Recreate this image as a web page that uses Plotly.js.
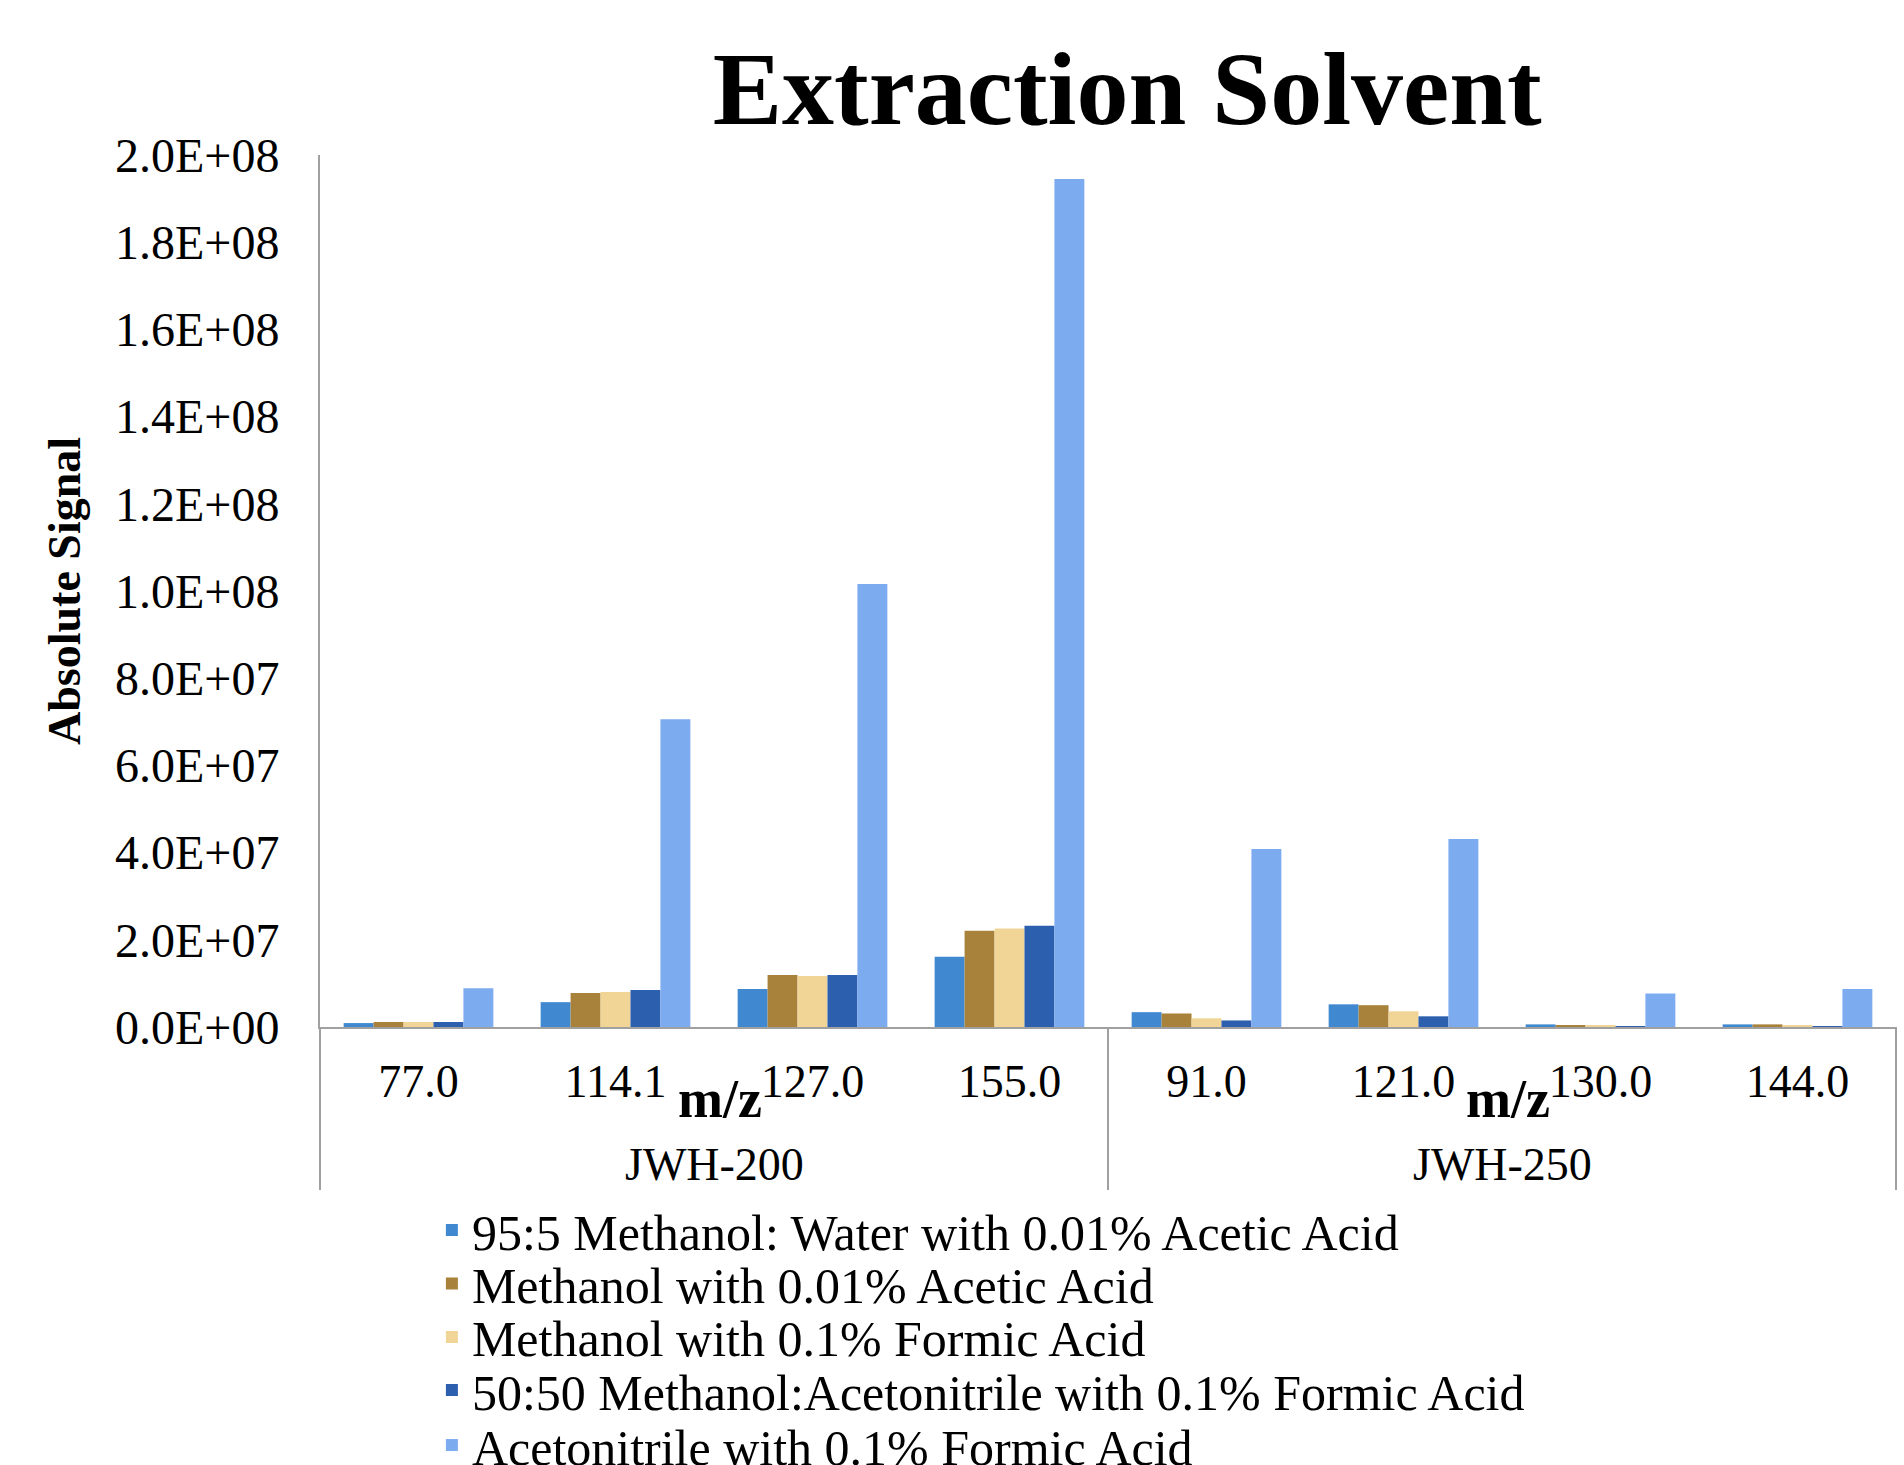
<!DOCTYPE html>
<html>
<head>
<meta charset="utf-8">
<script src="https://cdn.plot.ly/plotly-3.0.1.min.js"></script>
<style>html,body{margin:0;padding:0;background:#fff;}#chart{width:1904px;height:1465px;}</style>
</head>
<body>
<div id="chart"></div>
<script>
// ---- data ----
const compounds = ['JWH-200','JWH-200','JWH-200','JWH-200','JWH-250','JWH-250','JWH-250','JWH-250'];
const mzValues  = ['77.0','114.1','127.0','155.0','91.0','121.0','130.0','144.0'];

const seriesNames = [
  '95:5 Methanol: Water with 0.01% Acetic Acid',
  'Methanol with 0.01% Acetic Acid',
  'Methanol with 0.1% Formic Acid',
  '50:50 Methanol:Acetonitrile with 0.1% Formic Acid',
  'Acetonitrile with 0.1% Formic Acid'
];
const meohWaterAcetic   = [0.9e6, 5.7e6, 8.7e6, 16.1e6, 3.4e6, 5.2e6, 0.6e6, 0.6e6];
const meohAcetic        = [1.15e6, 7.8e6, 11.9e6, 22.1e6, 3.1e6, 5.0e6, 0.4e6, 0.6e6];
const meohFormic        = [1.15e6, 8.0e6, 11.7e6, 22.6e6, 2.0e6, 3.6e6, 0.4e6, 0.4e6];
const meohAcnFormic     = [1.15e6, 8.5e6, 11.9e6, 23.2e6, 1.5e6, 2.45e6, 0.15e6, 0.15e6];
const acnFormic         = [8.9e6, 70.6e6, 101.6e6, 194.5e6, 40.8e6, 43.1e6, 7.7e6, 8.7e6];

const yTickVals = [0, 2e7, 4e7, 6e7, 8e7, 1e8, 1.2e8, 1.4e8, 1.6e8, 1.8e8, 2e8];
const yTickText = ['0.0E+00','2.0E+07','4.0E+07','6.0E+07','8.0E+07','1.0E+08','1.2E+08','1.4E+08','1.6E+08','1.8E+08','2.0E+08'];

// ---- styling ----
const colors = ['#4089D0', '#A8823A', '#F0D597', '#2C5FAD', '#7DABEF'];
const allValues = [meohWaterAcetic, meohAcetic, meohFormic, meohAcnFormic, acnFormic];
const legendIds = ['legend','legend2','legend3','legend4','legend5'];
const legendY = [-0.2328, -0.2942, -0.3555, -0.4163, -0.4794];
const FONT = 'Liberation Serif, Times New Roman, serif';
const AXIS_GRAY = '#a0a0a0';

const traces = allValues.map((vals, i) => ({
  type: 'bar',
  name: seriesNames[i],
  x: mzValues,
  y: vals,
  marker: {color: colors[i], line: {width: 0}},
  legend: legendIds[i],
  hoverinfo: 'y+name'
}));

// group labels and dividers derived from the compounds array
const nCat = compounds.length;
const groups = [];
compounds.forEach((g, i) => {
  if (!groups.length || groups[groups.length - 1].name !== g) groups.push({name: g, start: i, end: i});
  else groups[groups.length - 1].end = i;
});
const annotations = [];
const shapes = [];
const boundaries = [0];
groups.forEach(g => {
  annotations.push({
    text: g.name, xref: 'x', yref: 'paper', x: (g.start + g.end) / 2, y: -0.158,
    xanchor: 'center', yanchor: 'middle', showarrow: false,
    font: {family: FONT, size: 46, color: '#000'}
  });
  annotations.push({
    text: '<b>m/z</b>', xref: 'x', yref: 'paper', x: (g.start + g.end) / 2 + 0.03, y: -0.083,
    xanchor: 'center', yanchor: 'middle', showarrow: false,
    font: {family: FONT, size: 54, color: '#000'}
  });
  boundaries.push((g.end + 1) / nCat);
});
boundaries.forEach(b => {
  shapes.push({type: 'line', xref: 'x domain', yref: 'paper', x0: b, x1: b, y0: 0, y1: -0.187,
    line: {color: AXIS_GRAY, width: 2}});
});

const layout = {
  width: 1904,
  height: 1465,
  paper_bgcolor: '#ffffff',
  plot_bgcolor: '#ffffff',
  margin: {l: 320, r: 8, t: 155, b: 438, autoexpand: false},
  barmode: 'group',
  bargap: 0.24,
  bargroupgap: 0,
  showlegend: true,
  font: {family: FONT, color: '#000'},
  title: {
    text: 'Extraction Solvent',
    font: {family: FONT, size: 104, weight: 'bold', color: '#000'},
    x: 0.592, xref: 'container', xanchor: 'center',
    y: 0.94, yref: 'container', yanchor: 'middle'
  },
  xaxis: {
    type: 'category',
    showline: true, linecolor: AXIS_GRAY, linewidth: 2,
    ticks: '',
    ticklabelstandoff: 13,
    showgrid: false,
    zeroline: false,
    tickfont: {family: FONT, size: 46, color: '#000'},
    fixedrange: true
  },
  yaxis: {
    range: [0, 2e8],
    tickvals: yTickVals,
    ticktext: yTickText,
    showline: true, linecolor: AXIS_GRAY, linewidth: 2,
    ticks: '',
    ticklabelstandoff: 29,
    showgrid: false,
    zeroline: false,
    tickfont: {family: FONT, size: 48, color: '#000'},
    title: {text: 'Absolute Signal', font: {family: FONT, size: 46, weight: 'bold', color: '#000'}, standoff: 20},
    automargin: false,
    fixedrange: true
  },
  annotations: annotations,
  shapes: shapes
};
legendIds.forEach((id, i) => {
  layout[id] = {
    x: 0.071, y: legendY[i], xanchor: 'left', yanchor: 'middle',
    orientation: 'v',
    bgcolor: 'rgba(0,0,0,0)', borderwidth: 0,
    font: {family: FONT, size: 50, color: '#000'}
  };
});

Plotly.newPlot('chart', traces, layout, {displayModeBar: false, responsive: false});
</script>
</body>
</html>
